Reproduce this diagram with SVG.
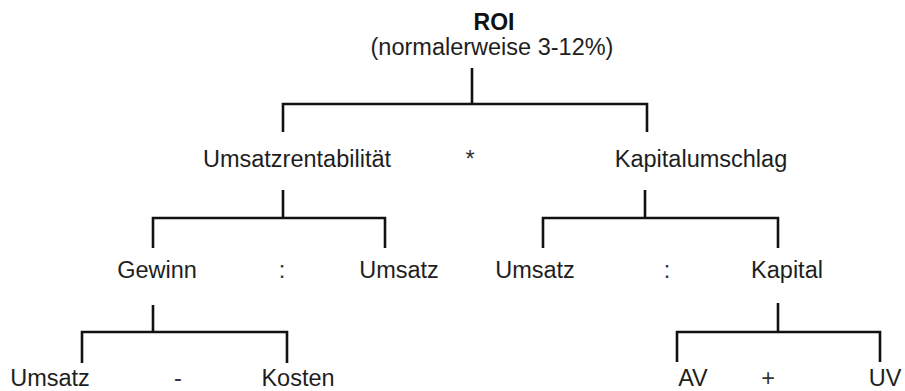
<svg xmlns="http://www.w3.org/2000/svg" width="905" height="391" viewBox="0 0 905 391">
  <style>
    .lbl { font-family: "Liberation Sans", Arial, sans-serif; font-size: 23.5px; fill: #1e1e1e; text-anchor: middle; }
    .title { font-weight: bold; font-size: 23px; fill: #111; }
    .op { font-family: "Liberation Sans", Arial, sans-serif; font-size: 23.5px; fill: #333; text-anchor: middle; }
    .tree { stroke: #111; stroke-width: 2.6; fill: none; stroke-linecap: butt; stroke-linejoin: miter; }
  </style>
  <rect width="905" height="391" fill="#ffffff"/>

  <!-- connectors: one bracket per split -->
  <g id="connectors" class="tree">
    <!-- ROI split -->
    <path d="M472 68 V104"/>
    <path d="M283 132 V104 H647 V132"/>
    <!-- Umsatzrentabilitaet split -->
    <path d="M283 190 V218"/>
    <path d="M153 248 V218 H385 V248"/>
    <!-- Kapitalumschlag split -->
    <path d="M645 190 V218"/>
    <path d="M543 248 V218 H778 V248"/>
    <!-- Gewinn split -->
    <path d="M153 305 V332"/>
    <path d="M82 363 V332 H287 V363"/>
    <!-- Kapital split -->
    <path d="M778 303 V332"/>
    <path d="M677 362 V332 H880 V362"/>
  </g>

  <g id="node-roi">
    <text class="lbl title" x="494" y="30">ROI</text>
    <text class="lbl" x="492" y="55">(normalerweise 3-12%)</text>
  </g>

  <g id="node-umsatzrentabilitaet">
    <text class="lbl" x="297" y="167">Umsatzrentabilität</text>
  </g>
  <g id="op-mult">
    <text class="op" x="470" y="167">*</text>
  </g>
  <g id="node-kapitalumschlag">
    <text class="lbl" x="701" y="167">Kapitalumschlag</text>
  </g>

  <g id="node-gewinn">
    <text class="lbl" x="157" y="278">Gewinn</text>
  </g>
  <g id="op-div-left">
    <text class="op" x="282" y="278">:</text>
  </g>
  <g id="node-umsatz-1">
    <text class="lbl" x="399" y="278">Umsatz</text>
  </g>

  <g id="node-umsatz-2">
    <text class="lbl" x="535" y="278">Umsatz</text>
  </g>
  <g id="op-div-right">
    <text class="op" x="667" y="278">:</text>
  </g>
  <g id="node-kapital">
    <text class="lbl" x="787" y="278">Kapital</text>
  </g>

  <g id="node-umsatz-3">
    <text class="lbl" x="50" y="386">Umsatz</text>
  </g>
  <g id="op-minus">
    <text class="op" x="178" y="386">-</text>
  </g>
  <g id="node-kosten">
    <text class="lbl" x="298" y="386">Kosten</text>
  </g>

  <g id="node-av">
    <text class="lbl" x="693" y="386">AV</text>
  </g>
  <g id="op-plus">
    <text class="op" x="768" y="386">+</text>
  </g>
  <g id="node-uv">
    <text class="lbl" x="885" y="386">UV</text>
  </g>
</svg>
